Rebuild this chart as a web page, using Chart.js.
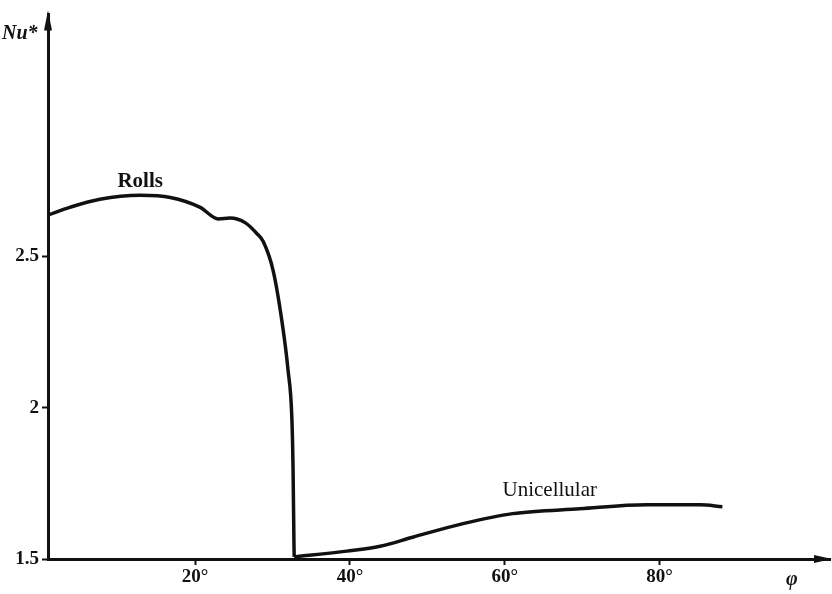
<!DOCTYPE html>
<html>
<head>
<meta charset="utf-8">
<script src="https://cdn.jsdelivr.net/npm/chart.js@4/dist/chart.umd.min.js"></script>
<style>
  html, body { margin: 0; padding: 0; background: #fff; }
  #wrap { width: 832px; height: 594px; }
</style>
</head>
<body>
<div id="wrap"><canvas id="mycanvas"></canvas></div>
<script>
// data (phi in degrees, Nu*)
var rollsPhi = [1.0, 3.9, 7.7, 12.9, 16.8, 20.6, 23.0, 24.5, 26.5, 28.0, 28.8, 30.1, 31.2, 32.0, 32.5, 32.65, 32.77, 32.8];
var rollsNu  = [2.637, 2.663, 2.689, 2.702, 2.695, 2.663, 2.624, 2.627, 2.611, 2.575, 2.549, 2.451, 2.288, 2.125, 1.963, 1.80, 1.546, 1.507];

var uniPhi = [32.8, 39.6, 43.9, 48.1, 54.6, 61.0, 69.7, 78.3, 85.2, 88.1];
var uniNu  = [1.507, 1.526, 1.542, 1.572, 1.617, 1.65, 1.666, 1.679, 1.679, 1.673];

var xTicks = [20, 40, 60, 80];
var yTicks = [1.5, 2, 2.5];

var labels = [
  { text: 'Rolls', phi: 12.9, nu: 2.748, weight: 'bold' },
  { text: 'Unicellular', phi: 65.8, nu: 1.725, weight: 'normal' }
];

function toPoints(xs, ys) {
  var pts = [];
  for (var i = 0; i < xs.length; i++) {
    pts.push({ x: xs[i], y: ys[i] });
  }
  return pts;
}

var serif = '"Liberation Serif", "DejaVu Serif", serif';

var decorPlugin = {
  id: 'decor',
  afterDraw: function(chart) {
    var ctx = chart.ctx;
    var xs = chart.scales.x, ys = chart.scales.y;
    var area = chart.chartArea;
    ctx.save();
    ctx.fillStyle = '#111';
    // arrow heads
    ctx.beginPath();
    ctx.moveTo(area.left, area.top - 4);
    ctx.lineTo(area.left - 4, area.top + 16);
    ctx.lineTo(area.left + 4, area.top + 16);
    ctx.closePath();
    ctx.fill();
    ctx.beginPath();
    ctx.moveTo(area.right + 2, area.bottom);
    ctx.lineTo(area.right - 16, area.bottom - 4);
    ctx.lineTo(area.right - 16, area.bottom + 4);
    ctx.closePath();
    ctx.fill();
    // curve labels
    ctx.textAlign = 'center';
    ctx.textBaseline = 'middle';
    for (var i = 0; i < labels.length; i++) {
      ctx.font = labels[i].weight + ' 21px ' + serif;
      ctx.fillText(labels[i].text, xs.getPixelForValue(labels[i].phi), ys.getPixelForValue(labels[i].nu));
    }
    // axis names
    ctx.font = 'italic bold 20px ' + serif;
    ctx.textAlign = 'left';
    ctx.fillText('Nu*', 2, 34);
    ctx.fillText('\u03c6', 786, 580);
    ctx.restore();
  }
};

var ctx = document.getElementById('mycanvas');

var chart = new Chart(ctx, {
  type: 'line',
  data: {
    datasets: [
      {
        label: 'Rolls',
        data: toPoints(rollsPhi, rollsNu),
        borderColor: '#111',
        borderWidth: 3.5,
        pointRadius: 0,
        cubicInterpolationMode: 'monotone',
        fill: false
      },
      {
        label: 'Unicellular',
        data: toPoints(uniPhi, uniNu),
        borderColor: '#111',
        borderWidth: 3.5,
        pointRadius: 0,
        cubicInterpolationMode: 'monotone',
        fill: false
      }
    ]
  },
  options: {
    responsive: true,
    maintainAspectRatio: false,
    animation: false,
    layout: { padding: { top: 6, right: 2, left: 0, bottom: 0 } },
    plugins: {
      legend: { display: false },
      tooltip: { enabled: false }
    },
    scales: {
      x: {
        type: 'linear',
        min: 1,
        max: 102,
        afterBuildTicks: function(scale) {
          scale.ticks = xTicks.map(function(v) { return { value: v }; });
        },
        afterFit: function(scale) { scale.height = 35; },
        border: { display: true, color: '#111', width: 3 },
        grid: { drawOnChartArea: false, drawTicks: true, tickLength: 6, tickWidth: 2, color: '#111' },
        ticks: {
          color: '#111',
          padding: 1,
          maxRotation: 0,
          font: { family: serif, size: 19, weight: 'bold' },
          callback: function(v) { return v + '\u00b0'; }
        }
      },
      y: {
        type: 'linear',
        min: 1.5,
        max: 3.3,
        afterBuildTicks: function(scale) {
          scale.ticks = yTicks.map(function(v) { return { value: v }; });
        },
        afterFit: function(scale) { scale.width = 48; },
        border: { display: true, color: '#111', width: 3 },
        grid: { drawOnChartArea: false, drawTicks: true, tickLength: 6, tickWidth: 2, color: '#111' },
        ticks: {
          color: '#111',
          padding: 3,
          font: { family: serif, size: 19, weight: 'bold' },
          callback: function(v) { return String(v); }
        }
      }
    }
  },
  plugins: [decorPlugin]
});
</script>
</body>
</html>
